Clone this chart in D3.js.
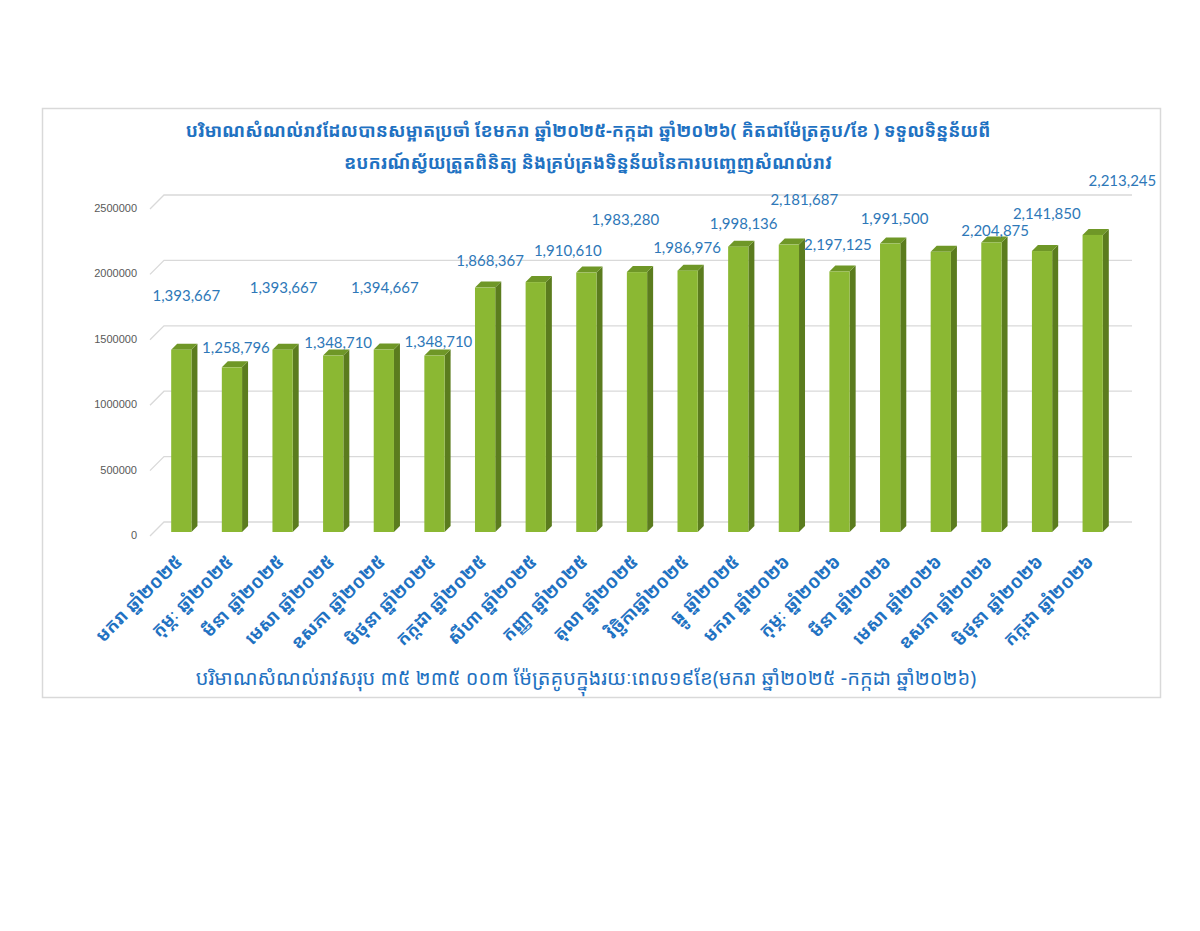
<!DOCTYPE html>
<html>
<head>
<meta charset="utf-8">
<title>Chart</title>
<script src="https://cdn.jsdelivr.net/npm/d3@7"></script>
<style>
    body { margin: 0; background: #ffffff; }
    svg { display: block; }
</style>
</head>
<body>
<div id="chart"></div>
<script>

//categories (months)
var months = [
    "មករា ឆ្នាំ២០២៥", "កុម្ភៈ ឆ្នាំ២០២៥", "មីនា ឆ្នាំ២០២៥", "មេសា ឆ្នាំ២០២៥",
    "ឧសភា ឆ្នាំ២០២៥", "មិថុនា ឆ្នាំ២០២៥", "កក្កដា ឆ្នាំ២០២៥", "សីហា ឆ្នាំ២០២៥",
    "កញ្ញា ឆ្នាំ២០២៥", "តុលា ឆ្នាំ២០២៥", "វិច្ឆិកាឆ្នាំ២០២៥", "ធ្នូ ឆ្នាំ២០២៥",
    "មករា ឆ្នាំ២០២៦", "កុម្ភៈ ឆ្នាំ២០២៦", "មីនា ឆ្នាំ២០២៦", "មេសា ឆ្នាំ២០២៦",
    "ឧសភា ឆ្នាំ២០២៦", "មិថុនា ឆ្នាំ២០២៦", "កក្កដា ឆ្នាំ២០២៦"
];

//monthly volume (m3), last two
var volumes = [
    1393667, 1258796, 1393667, 1348710, 1394667, 1348710, 1868367, 1910610,
    1983280, 1986976, 1998136, 2181687, 2197125, 1991500, 2204875, 2141850,
    2213245, 2148000, 2271135
];

//which bars carry a data label
var labelled = [
    true, true, true, true, true, true, true, true, true, true,
    true, true, true, true, true, true, true, false, false
];

var yTicks = [0, 500000, 1000000, 1500000, 2000000, 2500000];

var titleLines = [
    "បរិមាណសំណល់រាវដែលបានសម្អាតប្រចាំ ខែមករា ឆ្នាំ២០២៥-កក្កដា ឆ្នាំ២០២៦( គិតជាម៉ែត្រគូប/ខែ ) ទទួលទិន្នន័យពី",
    "ឧបករណ៍ស្វ័យត្រួតពិនិត្យ និងគ្រប់គ្រងទិន្នន័យនៃការបញ្ចេញសំណល់រាវ"
];
var footer = "បរិមាណសំណល់រាវសរុប ៣៥ ២៣៥ ០០៣ ម៉ែត្រគូបក្នុងរយៈពេល១៩ខែ(មករា ឆ្នាំ២០២៥ -កក្កដា ឆ្នាំ២០២៦)";

(function(d3){

    var W = 1200, H = 931;
    var khmerFont = "'Noto Sans Khmer', 'Khmer OS', 'Khmer OS Battambang', 'DejaVu Sans', sans-serif";
    var blue = "#1f72c2";
    var labelBlue = "#2e78b8";

    //label nudges (px) copied from where the labels sit in the picture
    var labelDx = [5, 4, 1, 5, 1, 4, 5, 32, 39, 50, 56, 66, 49, 55, 105, 106, 131, 0, 0];
    var labelDy = [-54, -19, -62, -13, -62, -14, -27, -31, -53, -24, -47, -47, 0, -53, -13, -38, -62, 0, 0];

    var svg = d3.select("#chart").append("svg")
            .attr("width", W)
            .attr("height", H);

    //outer chart frame
    svg.append("rect")
            .attr("x", 42.5).attr("y", 108.5)
            .attr("width", 1118).attr("height", 589)
            .attr("fill", "none")
            .attr("stroke", "#d9d9d9")
            .attr("stroke-width", 1.5);

    var x = d3.scaleBand()
            .domain(d3.range(months.length))
            .range([156, 1118])
            .paddingInner(0.6)
            .paddingOuter(0.3);

    var y = d3.scaleLinear()
            .domain([0, 2500000])
            .range([532, 205]);

    //depth of the 3d walls
    var wallDx = 14, wallDy = -14;
    var barDx = 6, barDy = -6;

    //back gridlines with the little diagonal on the left
    var grid = svg.append("g");
    yTicks.forEach(function(t){
        var yy = y(t);
        grid.append("path")
                .attr("d", "M150," + (yy + 4) + "L" + (150 + wallDx) + "," + (yy + 4 + wallDy) +
                        "L1132," + (yy + 4 + wallDy))
                .attr("fill", "none")
                .attr("stroke", "#d9d9d9")
                .attr("stroke-width", 1.3);
        grid.append("text")
                .attr("x", 137)
                .attr("y", yy + 7)
                .attr("text-anchor", "end")
                .attr("font-family", "'Liberation Sans', Arial, sans-serif")
                .attr("font-size", 11)
                .attr("fill", "#595959")
                .text(t);
    });

    //bars: front face, side face, top face
    var bars = svg.append("g").selectAll("g")
            .data(volumes)
            .enter().append("g");

    bars.append("path")
            .attr("d", function(d, i){
                var x1 = x(i) + x.bandwidth(), top = y(d), base = y(0);
                return "M" + x1 + "," + top + "L" + (x1 + barDx) + "," + (top + barDy) +
                        "L" + (x1 + barDx) + "," + (base + barDy) + "L" + x1 + "," + base + "Z";
            })
            .attr("fill", "#5b7c1e");

    bars.append("path")
            .attr("d", function(d, i){
                var x0 = x(i), x1 = x0 + x.bandwidth(), top = y(d);
                return "M" + x0 + "," + top + "L" + (x0 + barDx) + "," + (top + barDy) +
                        "L" + (x1 + barDx) + "," + (top + barDy) + "L" + x1 + "," + top + "Z";
            })
            .attr("fill", "#6f9727");

    bars.append("rect")
            .attr("x", function(d, i){ return x(i); })
            .attr("y", function(d){ return y(d); })
            .attr("width", x.bandwidth())
            .attr("height", function(d){ return y(0) - y(d); })
            .attr("fill", "#8bb833");

    //data labels
    var fmt = d3.format(",");
    svg.append("g").selectAll("text")
            .data(volumes)
            .enter().filter(function(d, i){ return labelled[i]; })
            .append("text")
            .attr("x", function(d, i){ return x(i) + x.bandwidth() / 2 + labelDx[i]; })
            .attr("y", function(d, i){ return y(d) + labelDy[i] + 5; })
            .attr("text-anchor", "middle")
            .attr("font-family", "Lato, 'Open Sans', sans-serif")
            .attr("font-size", 15)
            .attr("fill", labelBlue)
            .text(function(d){ return fmt(d); });

    //rotated month labels
    svg.append("g").selectAll("text")
            .data(months)
            .enter().append("text")
            .attr("transform", function(d, i){
                return "translate(" + (x(i) + x.bandwidth() / 2 + 2) + ",563) rotate(-45)";
            })
            .attr("text-anchor", "end")
            .attr("font-family", khmerFont)
            .attr("font-size", 18)
            .attr("font-weight", "bold")
            .attr("fill", blue)
            .text(function(d){ return d; });

    //title
    svg.append("g").selectAll("text")
            .data(titleLines)
            .enter().append("text")
            .attr("x", 588)
            .attr("y", function(d, i){ return 137 + i * 32; })
            .attr("text-anchor", "middle")
            .attr("font-family", khmerFont)
            .attr("font-size", 18)
            .attr("font-weight", "bold")
            .attr("fill", blue)
            .text(function(d){ return d; });

    //bottom total
    svg.append("text")
            .attr("x", 586)
            .attr("y", 685)
            .attr("text-anchor", "middle")
            .attr("font-family", khmerFont)
            .attr("font-size", 20)
            .attr("fill", blue)
            .text(footer);

})(d3);
</script>
</body>
</html>
